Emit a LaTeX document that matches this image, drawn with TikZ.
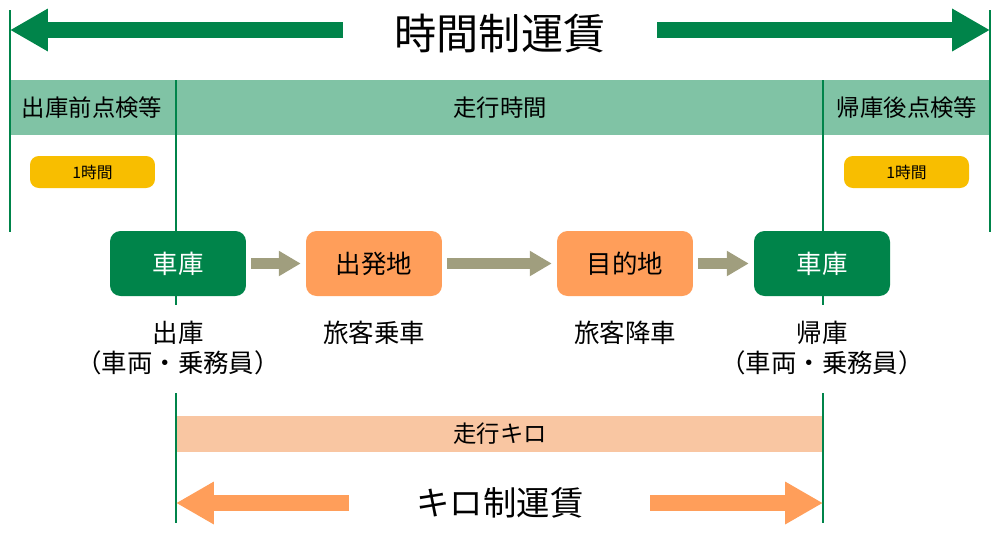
\documentclass[tikz,border=0pt]{standalone}
\usepackage{fontspec}
\setmainfont{Noto Sans CJK JP}
\usetikzlibrary{arrows.meta, positioning}

\definecolor{depotgreen}{HTML}{00844A}
\definecolor{bandgreen}{HTML}{80C3A5}
\definecolor{hourgold}{HTML}{F8BE00}
\definecolor{triporange}{HTML}{FF9E5A}
\definecolor{bandorange}{HTML}{F9C6A2}
\definecolor{flowgray}{HTML}{A09E7E}

\begin{document}
\begin{tikzpicture}[x=0.02cm, y=-0.02cm,
  fare/.style={line width=9pt, -{Triangle[width=22.7pt, length=21.5pt]}},
  flow/.style={line width=6.2pt, flowgray, -{Triangle[width=13.6pt, length=12.5pt]},
    shorten <=2.8pt, shorten >=2.8pt},
  guide/.style={depotgreen, line width=1.1pt},
  place/.style={fill=triporange, rounded corners=6pt, minimum width=2.72cm,
    minimum height=1.3cm, font=\fontsize{14.5}{17}\selectfont},
  depot/.style={place, fill=depotgreen, text=white},
  bandtext/.style={font=\fontsize{13.3}{16}\selectfont},
  hourpill/.style={fill=hourgold, rounded corners=5pt, minimum width=2.5cm,
    minimum height=0.64cm, font=\fontsize{9}{11}\selectfont},
  note/.style={align=center, font=\fontsize{14.5}{17}\selectfont}
]
\useasboundingbox (0,0) rectangle (1000,535);

% Bands
\fill[bandgreen] (10,80) rectangle (990,135);
\fill[bandorange] (176,416) rectangle (823,452);

% Guide lines
\foreach \gx/\gtop/\gbot in {10/10/232, 990/10/232, 176/80/305, 823/80/305,
                              176/393/523, 823/393/523}
  \draw[guide] (\gx,\gtop) -- (\gx,\gbot);

% Band labels
\node[bandtext] (prechk) at (92,107.5) {出庫前点検等};
\node[bandtext] (runtime) at (500,107.5) {走行時間};
\node[bandtext] (postchk) at (907,107.5) {帰庫後点検等};
\node[bandtext] (runkm) at (500,434) {走行キロ};

% One hour
\node[hourpill] (prehour) at (92.5,172) {1時間};
\node[hourpill] (posthour) at (906.5,172) {1時間};

% Trip
\node[depot] (garageout) at (178,263.5) {車庫};
\node[place] (origin) at (374,263.5) {出発地};
\node[place] (dest) at (625,263.5) {目的地};
\node[depot] (garagein) at (822,263.5) {車庫};

\draw[flow] (garageout) -- (origin);
\draw[flow] (origin) -- (dest);
\draw[flow] (dest) -- (garagein);

\node[note] (outnote) at (178,348) {出庫\\（車両・乗務員）};
\node[note] (boardnote) at (374,333) {旅客乗車};
\node[note] (alightnote) at (625,333) {旅客降車};
\node[note] (innote) at (822,348) {帰庫\\（車両・乗務員）};

% Time fare
\node[font=\fontsize{24}{28}\selectfont] (timefare) at (500,34) {時間制運賃};
\coordinate (timeLtail) at (343,30);
\coordinate (timeRtail) at (657,30);
\coordinate (timeL) at (10,30);
\coordinate (timeR) at (990,30);
\draw[fare, depotgreen] (timeLtail) -- (timeL);
\draw[fare, depotgreen] (timeRtail) -- (timeR);

% Kilometre fare
\node[font=\fontsize{19}{23}\selectfont] (kmfare) at (500,503) {キロ制運賃};
\coordinate (kmLtail) at (349,503);
\coordinate (kmRtail) at (650,503);
\coordinate (kmL) at (176,503);
\coordinate (kmR) at (823,503);
\draw[fare, triporange] (kmLtail) -- (kmL);
\draw[fare, triporange] (kmRtail) -- (kmR);

\end{tikzpicture}
\end{document}
